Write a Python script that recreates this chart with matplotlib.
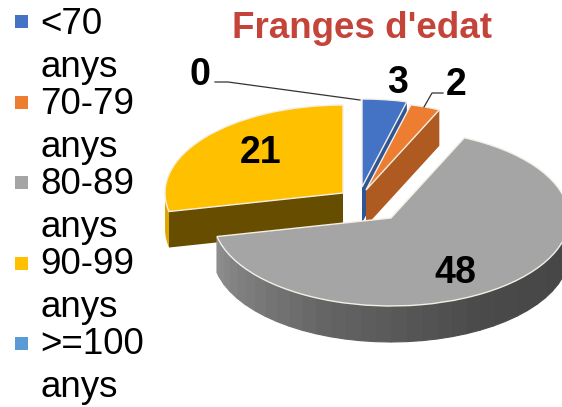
import numpy as np
import matplotlib
matplotlib.use("Agg")
import matplotlib.pyplot as plt
from matplotlib.patches import Wedge, Rectangle
from matplotlib.transforms import Affine2D

plt.rcParams["font.family"] = ["Liberation Sans", "DejaVu Sans"]

# Data
categories = ["<70 anys", "70-79 anys", "80-89 anys", "90-99 anys", ">=100 anys"]
values = [3, 2, 48, 21, 0]
title = "Franges d'edat"

# Styling
top_colors = ["#4472C4", "#ED7D31", "#A5A5A5", "#FFC000", "#5B9BD5"]
side_colors = ["#2F5597", "#AE5A21", "#7C7C7C", "#664D00", "#44749F"]
rim_colors = ["#2F5597", "#AE5A21", "#7C7C7C", "#DDA600", "#44749F"]

# Pie geometry in pixels: apex of every exploded slice, ellipse radii, thickness
apex = [(362, 187), (366, 190), (391, 218), (343, 193), (362, 187)]
rx, ry = 178, 88
depth = 36
draw_order = [3, 0, 1, 2]


def rim(i, theta):
    """Point on the outer edge of slice i, theta in degrees clockwise from the top."""
    t = np.radians(theta)
    return apex[i][0] + rx * np.sin(t), apex[i][1] - ry * np.cos(t)


def i_z(i):
    return 2 + draw_order.index(i) * 2


def draw_slice(ax, i, start, end):
    # Back-to-front: outer wall, radial wall, then the top face
    x_c, y_c = apex[i]
    if i == 2:
        # Grey wall gets a light to dark gradient, from the left end to the right
        wall = np.r_[np.arange(max(start, 90), min(end, 270), 5.0), min(end, 270)]
        for a, b in zip(wall[:-1], wall[1:]):
            shade = np.interp((a + b) / 2, [90, 150, 200, 258], [0.27, 0.29, 0.39, 0.56])
            xa, ya = rim(i, a)
            xb, yb = rim(i, b)
            ax.fill([xa, xb, xb, xa], [ya, yb, yb + depth, ya + depth],
                    color=str(shade), lw=0.8, zorder=i_z(i))
    elif end > 90 and start < 270:
        wall = np.linspace(max(start, 90), min(end, 270), 40)
        xs, ys = rim(i, wall)
        ax.fill(np.r_[xs, xs[::-1]], np.r_[ys, ys[::-1] + depth],
                color=rim_colors[i], lw=0, zorder=i_z(i))

    # Radial wall facing the viewer
    if i in (0, 1):
        xe, ye = rim(i, end)
        ax.fill([x_c, xe, xe, x_c], [y_c, ye, ye + depth, y_c + depth],
                color=side_colors[i], lw=0, zorder=i_z(i))
    if i == 3:
        xs, ys = rim(i, start)
        ax.fill([x_c, xs, xs, x_c], [y_c, ys, ys + depth, y_c + depth],
                color=side_colors[i], lw=0, zorder=i_z(i))

    squash = Affine2D().scale(rx, -ry).translate(x_c, y_c) + ax.transData
    ax.add_patch(Wedge((0, 0), 1, 90 - end, 90 - start, transform=squash,
                       facecolor=top_colors[i], edgecolor="#F4EFE6", lw=1.0,
                       zorder=i_z(i) + 0.5))


fig = plt.figure(figsize=(5.62, 4.07), dpi=100)
ax = fig.add_axes([0, 0, 1, 1])
ax.set_xlim(0, 562)
ax.set_ylim(407, 0)
ax.axis("off")

edges = np.r_[0, np.cumsum(values)] / sum(values) * 360
for i in draw_order:
    draw_slice(ax, i, edges[i], edges[i + 1])

# Leader lines for the two outside labels that need them
ax.plot([215, 228, 360], [82, 82, 100], color="#333333", lw=0.9, zorder=12)
ax.plot([443, 432, 424], [93, 93, 107], color="#333333", lw=0.9, zorder=12)

# Data labels, y is the text baseline
label_pos = [(398, 93), (456, 95), (455, 283), (260.5, 163), (200, 85)]
for v, (x, y) in zip(values, label_pos):
    ax.text(x, y, str(v), fontsize=27, fontweight="bold", color="black",
            ha="center", va="baseline", zorder=13)

ax.text(362, 29, title, fontsize=26.5, fontweight="bold", color="#C5443A",
        ha="center", va="center")

# Legend, wrapped on two lines like the original
for k, (name, color) in enumerate(zip(categories, top_colors)):
    first, second = name.split(" ")
    ax.add_patch(Rectangle((15, 15 + 80.5 * k), 13, 13, facecolor=color, edgecolor="none"))
    ax.text(40, 34.5 + 80 * k, first, fontsize=26.5, color="black", ha="left", va="baseline")
    ax.text(40, 77 + 80 * k, second, fontsize=26.5, color="black", ha="left", va="baseline")

fig.savefig("out.png", dpi=100)
